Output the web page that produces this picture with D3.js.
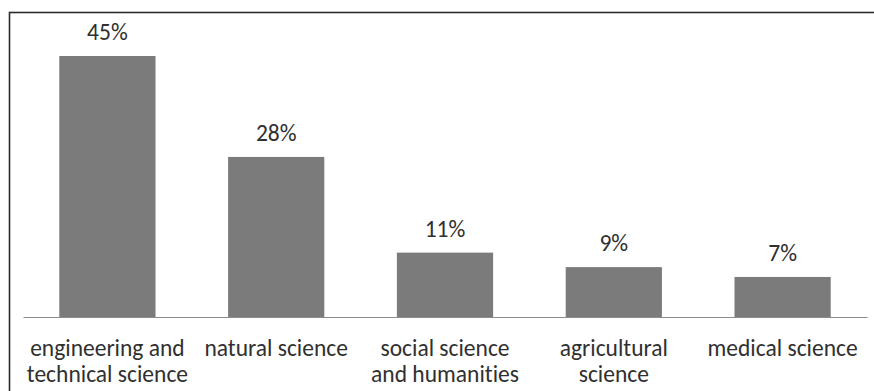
<!DOCTYPE html>
<html><head><meta charset="utf-8">
<script src="https://cdn.jsdelivr.net/npm/d3@7"></script>
<style>
html,body{margin:0;padding:0;background:#fff;}
svg{display:block;}
text{font-family:Carlito, Lato, "Open Sans", sans-serif;fill:#303030;font-variant-ligatures:none;font-feature-settings:"liga" 0;}
</style></head>
<body>
<svg id="chart" width="874" height="391"></svg>
<script>
const categories = [
  ["engineering and", "technical science"],
  ["natural science"],
  ["social science", "and humanities"],
  ["agricultural", "science"],
  ["medical science"]
];
const values = [45.0, 27.6, 11.1, 8.6, 6.9];
const yDomain = [0, 50];

const svg = d3.select("#chart");
const W = 874, H = 391;

// outer border (chart area frame)
svg.append("rect")
  .attr("x", 9.5).attr("y", 12.5)
  .attr("width", W + 10).attr("height", H + 10)
  .attr("fill", "none").attr("stroke", "#2b2b2b").attr("stroke-width", 1.6);

const x = d3.scaleBand()
  .domain(d3.range(categories.length))
  .range([23, 867])
  .paddingInner(0.43)
  .paddingOuter(0.215);

const y = d3.scaleLinear().domain(yDomain).range([317, 27]);

svg.selectAll("rect.bar").data(values).enter().append("rect")
  .attr("class", "bar")
  .attr("x", (d, i) => x(i))
  .attr("y", d => y(d))
  .attr("width", x.bandwidth())
  .attr("height", d => y(0) - y(d))
  .attr("fill", "#7b7b7b");

// baseline axis
const axis = svg.append("g").attr("transform", `translate(0,${y(0)})`)
  .call(d3.axisBottom(x).tickSize(0).tickFormat(""));
axis.select(".domain").attr("stroke", "#8c8c8c").attr("stroke-width", 1);

// value labels
svg.selectAll("text.val").data(values).enter().append("text")
  .attr("class", "val")
  .attr("x", (d, i) => x(i) + x.bandwidth() / 2)
  .attr("y", d => y(d) - 16)
  .attr("text-anchor", "middle")
  .attr("font-size", 23.5)
  .text(d => Math.round(d) + "%");

// category labels
const cat = svg.selectAll("text.cat").data(categories).enter().append("text")
  .attr("class", "cat")
  .attr("text-anchor", "middle")
  .attr("font-size", 23.5)
  .attr("transform", (d, i) => `translate(${x(i) + x.bandwidth() / 2},356)`);
cat.selectAll("tspan").data(d => d).enter().append("tspan")
  .attr("x", 0)
  .attr("y", (d, j) => j * 26)
  .text(d => d);
</script>
</body></html>
